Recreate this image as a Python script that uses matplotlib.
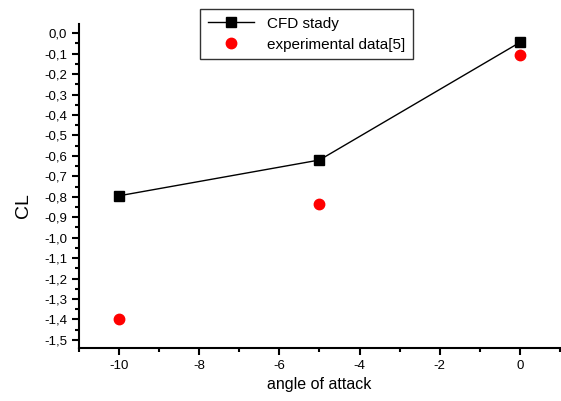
import matplotlib
matplotlib.use("Agg")
import matplotlib.pyplot as plt
from matplotlib.ticker import MultipleLocator, FuncFormatter

plt.rcParams['font.family'] = ['Liberation Sans', 'DejaVu Sans']
plt.rcParams['axes.unicode_minus'] = False

angle = [-10, -5, 0]
cl_cfd = [-0.795, -0.62, -0.045]
cl_exp = [-1.40, -0.835, -0.105]

fig = plt.figure(figsize=(5.61, 4.01), dpi=100)
ax = fig.add_axes([0.141, 0.132, 0.857, 0.808])

ax.plot(angle, cl_cfd, color='black', lw=1, marker='s', ms=7,
        label='CFD stady')
ax.plot(angle, cl_exp, ls='none', marker='o', color='red', ms=7.5,
        label='experimental data[5]')

ax.set_xlim(-11, 1)
ax.set_ylim(-1.54, 0.045)
ax.spines['top'].set_visible(False)
ax.spines['right'].set_visible(False)
ax.spines['left'].set_linewidth(1.5)
ax.spines['bottom'].set_linewidth(1.5)

ax.xaxis.set_major_locator(MultipleLocator(2))
ax.xaxis.set_minor_locator(MultipleLocator(1))
ax.yaxis.set_major_locator(MultipleLocator(0.1))
ax.yaxis.set_minor_locator(MultipleLocator(0.05))
ax.yaxis.set_major_formatter(FuncFormatter(lambda v, p: f"{v:.1f}".replace('.', ',').replace('-0,0', '0,0')))
ax.tick_params(which='major', direction='out', length=5, width=1.5, labelsize=9.5)
ax.tick_params(which='minor', direction='out', length=3, width=1.5)

ax.set_xlabel('angle of attack', fontsize=11.5)
ax.set_ylabel('CL', fontsize=14)
ax.yaxis.set_label_coords(-0.097, 0.44)

leg = ax.legend(loc='upper left', bbox_to_anchor=(0.252, 1.046), fontsize=11,
                frameon=True, fancybox=False, edgecolor='black',
                handlelength=3, handletextpad=0.9, borderpad=0.5,
                labelspacing=0.45, borderaxespad=0)
leg.get_frame().set_linewidth(1)

fig.savefig('out.png', dpi=100)
